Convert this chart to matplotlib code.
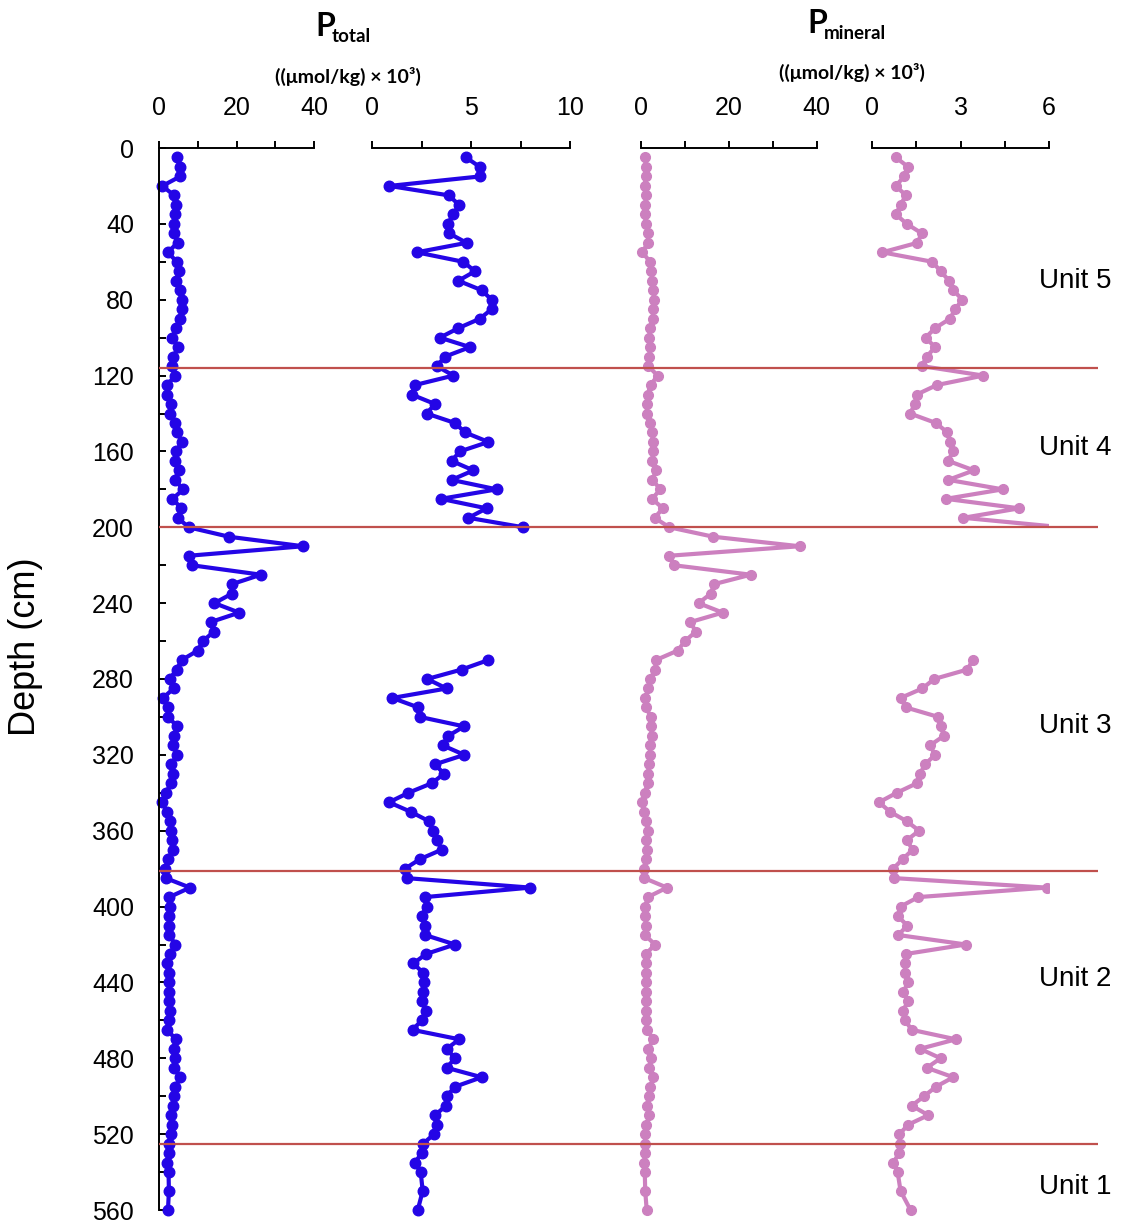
import numpy as np
import matplotlib
matplotlib.use('Agg')
import matplotlib.pyplot as plt
from matplotlib.transforms import Bbox, TransformedBbox

# depth of each sample (cm)
depth = [5, 10, 15, 20, 25, 30, 35, 40, 45, 50, 55, 60, 65, 70, 75, 80, 85, 90, 95, 100,
         105, 110, 115, 120, 125, 130, 135, 140, 145, 150, 155, 160, 165, 170, 175, 180, 185, 190, 195, 200,
         205, 210, 215, 220, 225, 230, 235, 240, 245, 250, 255, 260, 265,
         270, 275, 280, 285, 290, 295, 300, 305, 310, 315, 320, 325, 330, 335, 340, 345, 350, 355,
         360, 365, 370, 375, 380, 385,
         390, 395, 400, 405, 410, 415, 420, 425, 430, 435, 440, 445, 450, 455, 460, 465, 470, 475,
         480, 485, 490, 495, 500, 505, 510, 515, 520, 525, 530, 535, 540, 550, 560]

# P total ((umol/kg) x 10^3)
p_total = [4.75, 5.45, 5.45, 0.88, 3.89, 4.39, 4.11, 3.82, 3.89, 4.78, 2.26, 4.61, 5.20, 4.36, 5.54, 6.04, 6.04, 5.45, 4.36, 3.43,
           4.95, 3.69, 3.27, 4.11, 2.17, 2.00, 3.18, 2.76, 4.19, 4.70, 5.88, 4.44, 4.02, 5.12, 4.02, 6.30, 3.48, 5.79, 4.87, 7.64,
           18.1, 37.2, 7.74, 8.4, 26.3, 18.8, 18.8, 14.3, 20.7, 13.3, 14.2, 11.3, 10.0,
           5.88, 4.53, 2.79, 3.77, 1.03, 2.34, 2.42, 4.65, 3.85, 3.57, 4.66, 3.18, 3.64, 3.01, 1.84, 0.86, 1.95, 2.88,
           3.06, 3.27, 3.52, 2.42, 1.67, 1.75,
           8.0, 2.68, 2.76, 2.51, 2.68, 2.68, 4.19, 2.73, 2.09, 2.59, 2.62, 2.56, 2.51, 2.73, 2.51, 2.05, 4.41, 3.77,
           4.19, 3.77, 5.54, 4.19, 3.77, 3.74, 3.18, 3.30, 3.13, 2.59, 2.51, 2.17, 2.46, 2.56, 2.31]

# P mineral ((umol/kg) x 10^3)
p_mineral = [0.80, 1.22, 1.08, 0.80, 1.14, 0.96, 0.80, 1.17, 1.68, 1.53, 0.34, 2.04, 2.32, 2.61, 2.75, 3.06, 2.81, 2.64, 2.13, 1.81,
             2.13, 1.85, 1.68, 3.77, 2.19, 1.51, 1.45, 1.28, 2.16, 2.55, 2.64, 2.73, 2.58, 3.45, 2.58, 4.43, 2.50, 4.99, 3.09, 6.45,
             16.5, 36.1, 6.45, 7.4, 25.0, 16.6, 15.9, 13.1, 18.6, 11.2, 12.5, 10.0, 8.36,
             3.41, 3.23, 2.10, 1.70, 0.96, 1.14, 2.24, 2.33, 2.43, 1.96, 2.13, 1.79, 1.62, 1.51, 0.83, 0.23, 0.60, 1.17,
             1.59, 1.17, 1.37, 1.03, 0.71, 0.75,
             5.92, 1.56, 0.96, 0.86, 1.19, 0.88, 3.18, 1.14, 1.11, 1.11, 1.22, 1.05, 1.22, 1.03, 1.11, 1.34, 2.84, 1.62,
             2.32, 1.85, 2.75, 2.16, 1.76, 1.34, 1.90, 1.22, 0.92, 0.94, 0.92, 0.71, 0.86, 0.96, 1.30]

# unit boundaries and labels
unit_bounds = [116, 200, 381, 525]
unit_names = ['Unit 5', 'Unit 4', 'Unit 3', 'Unit 2', 'Unit 1']
unit_label_depth = [70, 158, 305, 438, 548]

blue = '#2405E6'
pink = '#CC80BF'
red = '#C0504D'
tick_font = 'Liberation Sans'
title_font = ['Lato', 'DejaVu Sans']

depth = np.array(depth)
p_total = np.array(p_total)
p_mineral = np.array(p_mineral)
# the zoomed panels leave out the high values between 200 and 270 cm
zoom_mask = (depth > 200) & (depth < 270)

W, H = 1123, 1224
fig = plt.figure(figsize=(W / 100, H / 100), dpi=100)

def px_axes(x0, x1):
    return fig.add_axes([x0 / W, (H - 1210) / H, (x1 - x0) / W, 1062 / H])

ax1 = px_axes(159, 314)
ax2 = px_axes(372, 570)
ax3 = px_axes(641, 816.7)
ax4 = px_axes(872.3, 1049)

def style(ax, xmax, majors, minors, left=False):
    ax.set_xlim(0, xmax)
    ax.set_ylim(560, 0)
    ax.xaxis.tick_top()
    ax.set_xticks(majors)
    ax.set_xticks(minors, minor=True)
    ax.set_xticklabels([('%g' % v) for v in majors], fontsize=18, family=tick_font)
    ax.tick_params(axis='x', which='both', direction='out', length=5, width=1.4, pad=15)
    for s in ['bottom', 'right']:
        ax.spines[s].set_visible(False)
    ax.spines['top'].set_linewidth(1.4)
    if left:
        ax.spines['left'].set_linewidth(1.4)
        ax.set_yticks(np.arange(0, 561, 40))
        ax.set_yticks(np.arange(20, 561, 40), minor=True)
        ax.set_yticklabels([str(v) for v in range(0, 561, 40)], fontsize=18, family=tick_font)
        ax.tick_params(axis='y', which='both', direction='in', length=5, width=1.4, pad=18)
    else:
        ax.spines['left'].set_visible(False)
        ax.set_yticks([])
    ax.patch.set_alpha(0)

style(ax1, 40, [0, 20, 40], [10, 30], left=True)
style(ax2, 10, [0, 5, 10], [2.5, 7.5])
style(ax3, 40, [0, 20, 40], [10, 30])
style(ax4, 6, [0, 3, 6], [1.5, 4.5])

blue_kw = dict(color=blue, lw=3.0, marker='o', ms=7.6, clip_on=False)
pink_kw = dict(color=pink, lw=3.0, marker='o', ms=7.0, clip_on=False)
ax1.plot(p_total, depth, **blue_kw)
ax2.plot(np.where(zoom_mask, np.nan, p_total), depth, **blue_kw)
ax3.plot(p_mineral, depth, **pink_kw)
line4, = ax4.plot(np.where(zoom_mask, np.nan, p_mineral), depth, **pink_kw)
# values above 6 run off the right edge of the last panel
line4.set_clip_on(True)
line4.set_clip_box(TransformedBbox(Bbox([[-0.1, -0.05], [1.0, 1.05]]), ax4.transAxes))

ax1.set_ylabel('Depth (cm)', fontsize=26, family=tick_font)
ax1.yaxis.set_label_coords(-0.75, 0.53)

# overlay for unit boundaries and names
ov = px_axes(159, 1098)
ov.set_xlim(0, 1)
ov.set_ylim(560, 0)
ov.axis('off')
for b in unit_bounds:
    ov.axhline(b, color=red, lw=1.6)
for name, d in zip(unit_names, unit_label_depth):
    ov.text((1075 - 159) / (1098 - 159), d, name, ha='center', va='center',
            fontsize=20, family=tick_font)

# headers
def header(x_p, y_base, sub, x_units, y_units):
    fig.text(x_p / W, 1 - y_base / H, 'P', fontsize=23, fontweight='bold',
             family=title_font, ha='left', va='baseline')
    fig.text((x_p + 17) / W, 1 - (y_base + 6) / H, sub, fontsize=13.5, fontweight='bold',
             family=title_font, ha='left', va='baseline')
    fig.text(x_units / W, 1 - y_units / H, '((\u03bcmol/kg) \u00d7 10\u00b3)', fontsize=14,
             fontweight='bold', family=title_font, ha='center', va='center')

header(315, 36, 'total', 348, 76)
header(807, 33, 'mineral', 852, 72)

fig.savefig('out.png', dpi=100)
